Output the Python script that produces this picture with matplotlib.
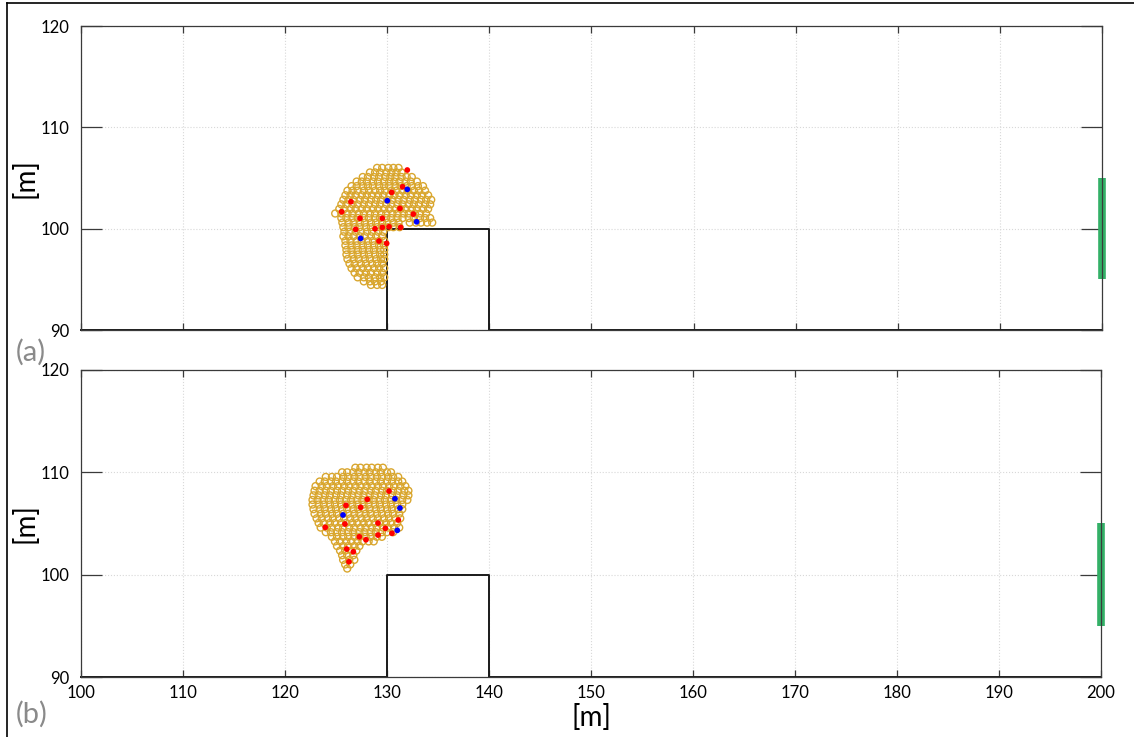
import numpy as np
import matplotlib
matplotlib.use("Agg")
import matplotlib.pyplot as plt
from matplotlib.lines import Line2D

plt.rcParams['font.family'] = ['Lato', 'DejaVu Sans']

# ---- geometry -------------------------------------------------------------
wall_x = [100, 130, 130, 140, 140, 200]
wall_y = [90, 90, 100, 100, 90, 90]
exit_x = [200, 200]
exit_y = [95, 105]

xticks = [100, 110, 120, 130, 140, 150, 160, 170, 180, 190, 200]
yticks = [90, 100, 110, 120]

# ---- crowd, panel (a): rows of (y, x positions) ----------------------------
crowd_a_rows = [
    (106.0, [129.0, 129.5, 130.1, 130.6, 131.1]),
    (105.55, [128.3, 128.8, 129.3, 129.9, 130.4, 130.9, 131.4]),
    (105.1, [127.6, 128.1, 128.7, 129.2, 129.8, 130.3, 130.8, 131.4, 131.9, 132.4]),
    (104.65, [127.0, 127.5, 128.0, 128.6, 129.1, 129.7, 130.2, 130.7, 131.2, 131.8, 132.3, 132.9]),
    (104.2, [126.5, 127.0, 127.6, 128.1, 128.6, 129.2, 129.7, 130.2, 130.8, 131.3, 131.9, 132.4, 133.0, 133.5]),
    (103.75, [126.1, 126.6, 127.1, 127.7, 128.2, 128.8, 129.3, 129.8, 130.4, 130.9, 131.5, 132.0, 132.6, 133.1, 133.7]),
    (103.3, [125.9, 126.4, 126.9, 127.5, 128.0, 128.5, 129.1, 129.6, 130.2, 130.7, 131.2, 131.8, 132.3, 132.9, 133.4, 134.0]),
    (102.85, [125.7, 126.2, 126.7, 127.3, 127.8, 128.4, 128.9, 129.4, 130.0, 130.5, 131.1, 131.6, 132.2, 132.7, 133.3, 133.8, 134.3]),
    (102.4, [125.5, 126.0, 126.6, 127.1, 127.7, 128.2, 128.8, 129.3, 129.9, 130.4, 131.0, 131.5, 132.1, 132.6, 133.1, 133.7, 134.2]),
    (101.95, [125.3, 125.8, 126.4, 126.9, 127.5, 128.0, 128.6, 129.1, 129.7, 130.2, 130.8, 131.3, 131.8, 132.4, 132.9, 133.5, 134.0]),
    (101.5, [124.9, 125.5, 126.1, 126.6, 127.2, 127.7, 128.3, 128.8, 129.4, 129.9, 130.5, 131.0, 131.6, 132.1, 132.7, 133.2, 133.8]),
    (101.05, [125.5, 126.0, 126.6, 127.1, 127.7, 128.2, 128.8, 129.3, 129.9, 130.4, 131.0, 131.5, 132.1, 132.6, 133.2, 133.7, 134.2]),
    (100.6, [125.6, 126.2, 126.7, 127.3, 127.8, 128.4, 128.9, 129.5, 130.0, 130.6, 131.1, 132.2, 132.8, 133.3, 133.9, 134.4]),
    (100.15, [125.7, 126.2, 126.8, 127.3, 127.9, 128.4, 129.0, 129.5, 130.1, 130.6, 131.2]),
    (99.7, [125.8, 126.3, 126.9, 127.4, 128.0, 128.5, 129.1, 129.6]),
    (99.25, [125.7, 126.2, 126.7, 127.3, 127.8, 128.4, 128.9, 129.5]),
    (98.8, [125.9, 126.4, 127.0, 127.5, 128.1, 128.6, 129.2, 129.7]),
    (98.35, [125.9, 126.5, 127.0, 127.6, 128.1, 128.7, 129.2, 129.7]),
    (97.9, [126.0, 126.5, 127.1, 127.6, 128.2, 128.7, 129.3, 129.7]),
    (97.45, [126.0, 126.6, 127.1, 127.7, 128.2, 128.8, 129.3, 129.7]),
    (97.0, [126.1, 126.7, 127.2, 127.8, 128.3, 128.9, 129.4, 129.7]),
    (96.55, [126.3, 126.8, 127.4, 127.9, 128.5, 129.0, 129.5]),
    (96.1, [126.5, 127.0, 127.6, 128.1, 128.7, 129.2, 129.7]),
    (95.65, [126.8, 127.3, 127.9, 128.4, 129.0, 129.5]),
    (95.2, [127.1, 127.7, 128.2, 128.8, 129.3, 129.7]),
    (94.8, [127.7, 128.3, 128.8, 129.4]),
    (94.45, [128.4, 129.0, 129.5]),
]

red_a_x = [131.96, 131.5, 130.43, 126.44, 131.24, 125.53, 132.55, 127.33,
           129.51, 130.17, 129.51, 131.31, 126.9, 128.8, 129.19, 129.94]
red_a_y = [105.79, 104.14, 103.58, 102.66, 102.0, 101.67, 101.44, 101.02,
           101.02, 100.19, 100.13, 100.13, 99.93, 99.99, 98.78, 98.55]
blue_a_x = [131.96, 130.0, 132.87, 127.39]
blue_a_y = [103.88, 102.76, 100.68, 99.04]

# ---- crowd, panel (b) -------------------------------------------------------
crowd_b_rows = [
    (110.45, [126.9, 127.4, 128.0, 128.5, 129.1, 129.6]),
    (110.0, [125.6, 126.1, 126.7, 127.2, 127.8, 128.3, 128.9, 129.4, 130.0, 130.4]),
    (109.55, [124.0, 124.6, 125.1, 125.7, 126.2, 126.8, 127.3, 127.9, 128.4, 129.0, 129.5, 130.1, 130.6, 131.1]),
    (109.1, [123.4, 123.9, 124.5, 125.0, 125.6, 126.1, 126.7, 127.2, 127.8, 128.3, 128.9, 129.4, 130.0, 130.5, 131.1, 131.5]),
    (108.65, [123.0, 123.6, 124.1, 124.7, 125.2, 125.8, 126.3, 126.9, 127.4, 128.0, 128.5, 129.1, 129.6, 130.2, 130.7, 131.3, 131.8]),
    (108.2, [122.9, 123.4, 124.0, 124.5, 125.1, 125.6, 126.2, 126.7, 127.3, 127.8, 128.4, 128.9, 129.5, 130.0, 130.6, 131.1, 131.7, 132.1]),
    (107.75, [122.8, 123.3, 123.9, 124.4, 125.0, 125.5, 126.1, 126.6, 127.2, 127.7, 128.3, 128.8, 129.4, 129.9, 130.5, 131.0, 131.6, 132.1]),
    (107.3, [122.7, 123.2, 123.8, 124.3, 124.9, 125.4, 126.0, 126.5, 127.1, 127.6, 128.2, 128.7, 129.3, 129.8, 130.4, 130.9, 131.5, 132.0]),
    (106.85, [122.7, 123.3, 123.8, 124.4, 124.9, 125.5, 126.0, 126.6, 127.1, 127.7, 128.2, 128.8, 129.3, 129.9, 130.4, 131.0, 131.5]),
    (106.4, [122.8, 123.4, 123.9, 124.5, 125.0, 125.6, 126.1, 126.7, 127.2, 127.8, 128.3, 128.9, 129.4, 130.0, 130.5, 131.1, 131.5]),
    (105.95, [122.9, 123.5, 124.0, 124.6, 125.1, 125.7, 126.2, 126.8, 127.3, 127.9, 128.4, 129.0, 129.5, 130.1, 130.6, 131.2]),
    (105.5, [123.1, 123.6, 124.2, 124.7, 125.3, 125.8, 126.4, 126.9, 127.5, 128.0, 128.6, 129.1, 129.7, 130.2, 130.8, 131.3]),
    (105.05, [123.3, 123.8, 124.4, 124.9, 125.5, 126.0, 126.6, 127.1, 127.7, 128.2, 128.8, 129.3, 129.9, 130.4, 131.0]),
    (104.6, [123.5, 124.1, 124.6, 125.2, 125.7, 126.3, 126.8, 127.4, 127.9, 128.5, 129.0, 129.6, 130.1, 130.7, 131.2]),
    (104.15, [124.0, 124.5, 125.1, 125.6, 126.2, 126.7, 127.3, 127.8, 128.4, 128.9, 129.5, 130.0, 130.6]),
    (103.7, [124.6, 125.1, 125.7, 126.2, 126.8, 127.3, 127.9, 128.4, 129.0, 129.5]),
    (103.25, [124.9, 125.4, 126.0, 126.5, 127.1, 127.6, 128.2, 128.7]),
    (102.8, [125.1, 125.7, 126.2, 126.8, 127.3]),
    (102.35, [125.4, 125.9, 126.5, 127.0]),
    (101.9, [125.6, 126.1, 126.7]),
    (101.45, [125.7, 126.3, 126.8]),
    (101.0, [125.9, 126.4]),
    (100.6, [126.1]),
]

red_b_x = [130.2, 128.07, 125.98, 127.42, 131.11, 123.95, 125.88, 129.12,
           129.84, 129.12, 127.29, 127.94, 130.49, 126.05, 126.7, 126.27]
red_b_y = [108.17, 107.36, 106.77, 106.58, 105.34, 104.62, 104.95, 105.04,
           104.53, 103.87, 103.7, 103.41, 104.04, 102.5, 102.24, 101.26]
blue_b_x = [130.78, 131.27, 125.69, 131.01]
blue_b_y = [107.42, 106.51, 105.83, 104.33]

GOLD = '#d9a62e'
GREEN = '#33b067'


def expand(rows):
    xs, ys = [], []
    for y, row in rows:
        xs.extend(row)
        ys.extend([y] * len(row))
    return np.array(xs), np.array(ys)


fig = plt.figure(figsize=(11.34, 7.37), dpi=100)
ax_a = fig.add_axes([0.0714, 0.5522, 0.9004, 0.4125])
ax_b = fig.add_axes([0.0714, 0.0814, 0.8995, 0.4166])

panels = [
    (ax_a, crowd_a_rows, red_a_x, red_a_y, blue_a_x, blue_a_y, False),
    (ax_b, crowd_b_rows, red_b_x, red_b_y, blue_b_x, blue_b_y, True),
]

for ax, rows, rx, ry, bx, by, show_x in panels:
    ax.set_xlim(100, 200)
    ax.set_ylim(90, 120)
    ax.set_xticks(xticks)
    ax.set_yticks(yticks)
    ax.grid(True, color='#d8d8d8', linestyle=':', linewidth=0.8)
    ax.set_axisbelow(True)
    for s in ax.spines.values():
        s.set_color('#3a3a3a')
        s.set_linewidth(0.9)
        s.set_zorder(3)
    ax.tick_params(axis='x', direction='in', length=5, width=0.9, color='#3a3a3a',
                   top=True, labelbottom=show_x, labelsize=12, pad=6)
    ax.tick_params(axis='y', direction='in', length=15, width=0.9, color='#3a3a3a',
                   right=True, labelsize=12, pad=8)
    ax.set_ylabel('[m]', fontsize=20, labelpad=2)

    ax.plot(wall_x, wall_y, color='#1a1a1a', linewidth=1.4, zorder=3, clip_on=False)
    ax.plot(exit_x, exit_y, color=GREEN, linewidth=5.5, solid_capstyle='butt',
            zorder=2, clip_on=False)

    cx, cy = expand(rows)
    ax.scatter(cx, cy, s=25, facecolors='none', edgecolors=GOLD, linewidths=1.0, zorder=4)
    ax.scatter(rx, ry, s=17, color='#ff0000', edgecolors='none', zorder=5)
    ax.scatter(bx, by, s=17, color='#0000ff', edgecolors='none', zorder=5)

ax_b.set_xlabel('[m]', fontsize=20, labelpad=2)

fig.text(0.014, 0.522, '(a)', fontsize=21, color='#8a8a8a', ha='left', va='center')
fig.text(0.014, 0.031, '(b)', fontsize=21, color='#8a8a8a', ha='left', va='center')

# thin frame on the left and top edges
fig.add_artist(Line2D([0.0062, 0.0062], [0.0, 0.9959], color='black', linewidth=1.2))
fig.add_artist(Line2D([0.0062, 1.0], [0.9959, 0.9959], color='black', linewidth=1.2))

fig.savefig('out.png', dpi=100)
